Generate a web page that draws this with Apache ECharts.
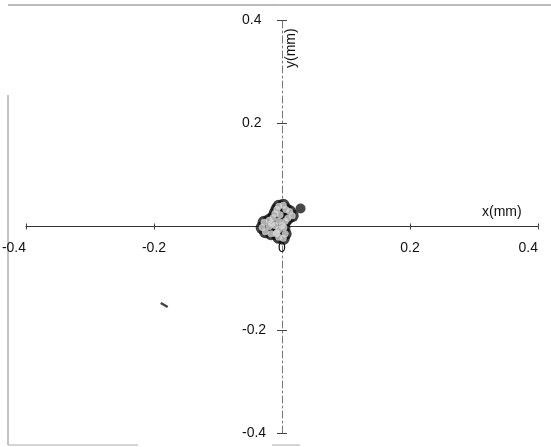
<!DOCTYPE html>
<html>
<head>
<meta charset="utf-8">
<script src="https://cdn.jsdelivr.net/npm/echarts@6/dist/echarts.min.js"></script>
<style>
  html, body { margin: 0; padding: 0; background: #fff; }
  #chart { width: 551px; height: 447px; }
</style>
</head>
<body>
<div id="chart"></div>
<script>
// Axis ticks (mm)
const tickValues = [-0.4, -0.2, 0, 0.2, 0.4];
const axisMin = -0.4;
const axisMax = 0.4;
const tickStep = 0.2;

// Measured positions forming the main cluster near the origin (x mm, y mm)
const clusterX = [-0.005, 0.002, 0.006, 0.012, 0.016, 0.009, 0.005, 0.003, 0.005, 0.002,
                  -0.005, -0.009, -0.017, -0.026, -0.031, -0.028, -0.020, -0.014, -0.011, -0.008,
                  -0.003, -0.005, -0.011, -0.005, -0.020, -0.016, 0.000, -0.008];
const clusterY = [0.039, 0.041, 0.033, 0.029, 0.021, 0.016, 0.010, -0.002, -0.014, -0.023,
                  -0.021, -0.014, -0.014, -0.010, -0.002, 0.008, 0.012, 0.017, 0.025, 0.033,
                  0.023, 0.010, 0.002, -0.006, 0.000, 0.006, 0.002, -0.012];

// Separate point to the upper right of the cluster
const outlierX = [0.029];
const outlierY = [0.035];

// Isolated short stroke in the lower-left quadrant
const strayX = [-0.184];
const strayY = [-0.152];

const zip = (xs, ys) => xs.map((x, i) => [x, ys[i]]);
const cluster = zip(clusterX, clusterY);

const labelFmt = v => {
  const r = Math.round(v * 10) / 10;
  return r === 0 ? '0' : String(r);
};

// plot box and the offsets that bring both axes through the origin
const G = { left: 26, right: 13, top: 20, bottom: 14 };
const W = 551, H = 447;
const plotW = W - G.left - G.right;
const plotH = H - G.top - G.bottom;
const xAxisShift = -plotH * (0 - axisMin) / (axisMax - axisMin);
const yAxisShift = -plotW * (0 - axisMin) / (axisMax - axisMin);

const chart = echarts.init(document.getElementById('chart'), null, { renderer: 'canvas' });

const textStyle = { color: '#111', fontFamily: 'Liberation Sans, Arial, sans-serif', fontSize: 14 };

chart.setOption({
  backgroundColor: '#fff',
  animation: false,
  grid: Object.assign({ containLabel: false, outerBoundsMode: 'none' }, G),
  xAxis: [{
    type: 'value', min: axisMin, max: axisMax, interval: tickStep,
    position: 'bottom', offset: xAxisShift,
    axisLine: { onZero: false, lineStyle: { color: '#333', width: 1.2 } },
    axisTick: { show: true, length: 3, lineStyle: { color: '#444' } },
    axisLabel: Object.assign({ margin: 15, formatter: labelFmt,
      alignMinLabel: 'right', alignMaxLabel: 'right' }, textStyle),
    splitLine: { show: false }
  }, {
    type: 'value', min: axisMin, max: axisMax, interval: tickStep,
    position: 'bottom', offset: xAxisShift,
    axisLine: { show: false, onZero: false },
    axisTick: { show: true, inside: true, length: 3, lineStyle: { color: '#444' } },
    axisLabel: { show: false },
    splitLine: { show: false }
  }],
  yAxis: [{
    type: 'value', min: axisMin, max: axisMax, interval: tickStep,
    position: 'left', offset: yAxisShift,
    axisLine: { onZero: false, lineStyle: { color: '#777', width: 1, type: [7, 3, 2, 3] } },
    axisTick: { show: true, length: 5, lineStyle: { color: '#444' } },
    axisLabel: Object.assign({ margin: 40, align: 'left',
      formatter: v => (Math.abs(v) < 1e-9 ? '' : labelFmt(v)) }, textStyle),
    splitLine: { show: false }
  }, {
    type: 'value', min: axisMin, max: axisMax, interval: tickStep,
    position: 'left', offset: yAxisShift,
    axisLine: { show: false, onZero: false },
    axisTick: { show: true, inside: true, length: 5, lineStyle: { color: '#444' } },
    axisLabel: { show: false },
    splitLine: { show: false }
  }],
  graphic: [
    // figure frame
    { type: 'line', shape: { x1: 8, y1: 5, x2: 551, y2: 5 }, style: { stroke: '#777', lineWidth: 1 }, silent: true },
    { type: 'line', shape: { x1: 8, y1: 95, x2: 8, y2: 445 }, style: { stroke: '#888', lineWidth: 1 }, silent: true },
    { type: 'line', shape: { x1: 8, y1: 445, x2: 138, y2: 445 }, style: { stroke: '#aaa', lineWidth: 1 }, silent: true },
    { type: 'line', shape: { x1: 272, y1: 445, x2: 300, y2: 445 }, style: { stroke: '#aaa', lineWidth: 1 }, silent: true },
    // axis titles
    { type: 'text', left: 482, top: 205,
      style: { text: 'x(mm)', fill: '#111', font: '14px "Liberation Sans", Arial, sans-serif' } },
    { type: 'text', x: 284, y: 68, rotation: Math.PI / 2,
      style: { text: 'y(mm)', fill: '#111', font: '14px "Liberation Sans", Arial, sans-serif',
               verticalAlign: 'top' } }
  ],
  series: [
    { // cluster outline
      type: 'scatter', xAxisIndex: 0, yAxisIndex: 0, data: cluster,
      symbol: 'circle', symbolSize: 13, itemStyle: { color: '#111' }, z: 2
    },
    { // cluster fill
      type: 'scatter', xAxisIndex: 0, yAxisIndex: 0, data: cluster,
      symbol: 'circle', symbolSize: 7, itemStyle: { color: '#d4d4d4' }, z: 3
    },
    {
      type: 'scatter', xAxisIndex: 0, yAxisIndex: 0, data: zip(outlierX, outlierY),
      symbol: 'circle', symbolSize: 10, itemStyle: { color: '#1a1a1a' }, z: 3
    },
    {
      type: 'scatter', xAxisIndex: 0, yAxisIndex: 0, data: zip(strayX, strayY),
      symbol: 'rect', symbolSize: [8, 2.5], symbolRotate: -30, itemStyle: { color: '#111' }, z: 3
    }
  ]
});
</script>
</body>
</html>
